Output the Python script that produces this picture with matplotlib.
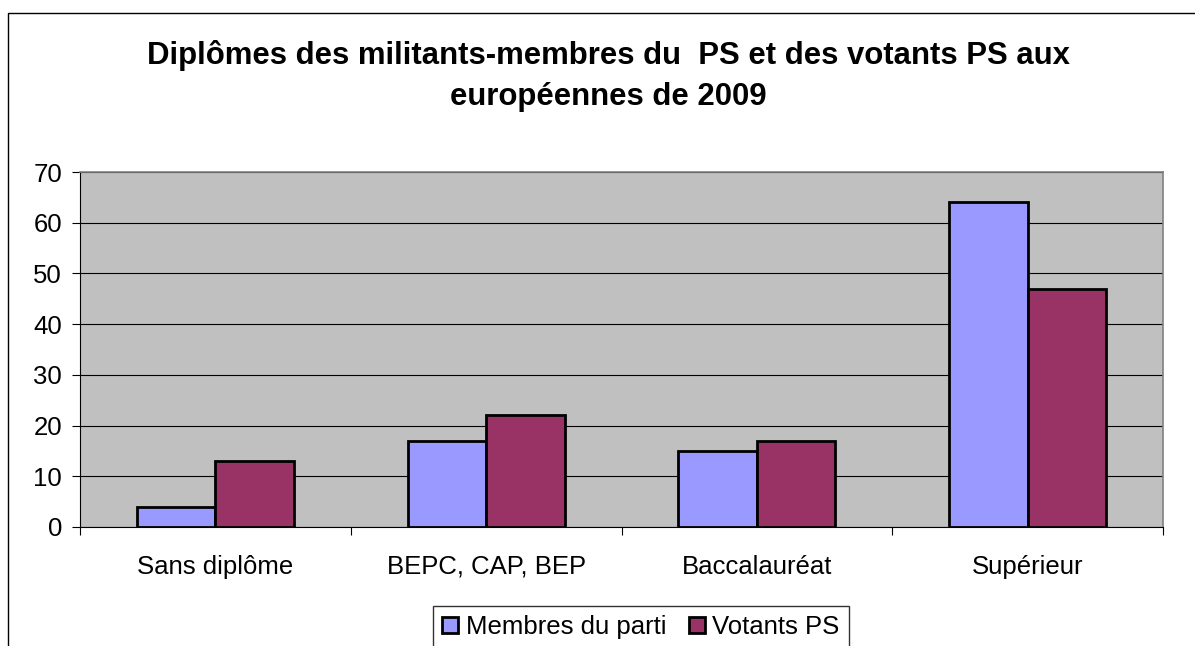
import numpy as np
import matplotlib
matplotlib.use('Agg')
import matplotlib.pyplot as plt
from matplotlib.patches import Rectangle

categories = ['Sans diplôme', 'BEPC, CAP, BEP', 'Baccalauréat', 'Supérieur']
membres = [4, 17, 15, 64]
votants = [13, 22, 17, 47]
series_names = ['Membres du parti', 'Votants PS']
yticks = [0, 10, 20, 30, 40, 50, 60, 70]

plt.rcParams['font.family'] = ['Liberation Sans', 'DejaVu Sans']

fig = plt.figure(figsize=(11.95, 6.46), dpi=100)

# outer chart frame (cut off at right and bottom like the source)
fig.patches.append(Rectangle((8 / 1195, -0.01), 1.1, 1 - 13 / 646 + 0.01,
                             transform=fig.transFigure, fill=False,
                             edgecolor='black', linewidth=1))

ax = fig.add_axes([80 / 1195, 1 - 527 / 646, (1163 - 80) / 1195, (527 - 172) / 646])
ax.set_facecolor('#c0c0c0')

x = np.arange(len(categories))
w = 0.29
ax.bar(x - w / 2, membres, w, color='#9999ff', edgecolor='black', linewidth=2,
       label=series_names[0], zorder=3)
ax.bar(x + w / 2, votants, w, color='#993366', edgecolor='black', linewidth=2,
       label=series_names[1], zorder=3)

ax.set_xlim(-0.5, len(categories) - 0.5)
ax.set_ylim(0, 70)
ax.set_yticks(yticks)
ax.yaxis.grid(True, color='black', linewidth=0.8, zorder=1)
ax.set_axisbelow(True)

ax.set_xticks(np.arange(len(categories) + 1) - 0.5, minor=False)
ax.set_xticklabels([])
ax.set_xticks(x, minor=True)
ax.set_xticklabels(categories, minor=True, fontsize=18.5)
ax.tick_params(axis='x', which='minor', length=0, pad=20)
ax.tick_params(axis='x', which='major', length=6, direction='out', color='black')
ax.tick_params(axis='y', labelsize=18.5, length=6, direction='out', pad=7)

for side in ['top', 'right']:
    ax.spines[side].set_color('#808080')
    ax.spines[side].set_linewidth(1.2)
ax.spines['left'].set_color('black')
ax.spines['bottom'].set_color('black')

fig.text(608 / 1195, 1 - 76 / 646, 'Diplômes des militants-membres du  PS et des votants PS aux\neuropéennes de 2009',
         ha='center', va='center', fontsize=22.4, fontweight='bold', linespacing=1.45)

leg = fig.legend(loc='center', bbox_to_anchor=(641 / 1195, 1 - 627 / 646), ncol=2,
                 fontsize=18.5, frameon=True, fancybox=False, edgecolor='black',
                 handlelength=0.6, handleheight=0.6, handletextpad=0.3, columnspacing=0.9,
                 borderpad=0.35)
leg.get_frame().set_linewidth(1)

fig.savefig('out.png', dpi=100)
